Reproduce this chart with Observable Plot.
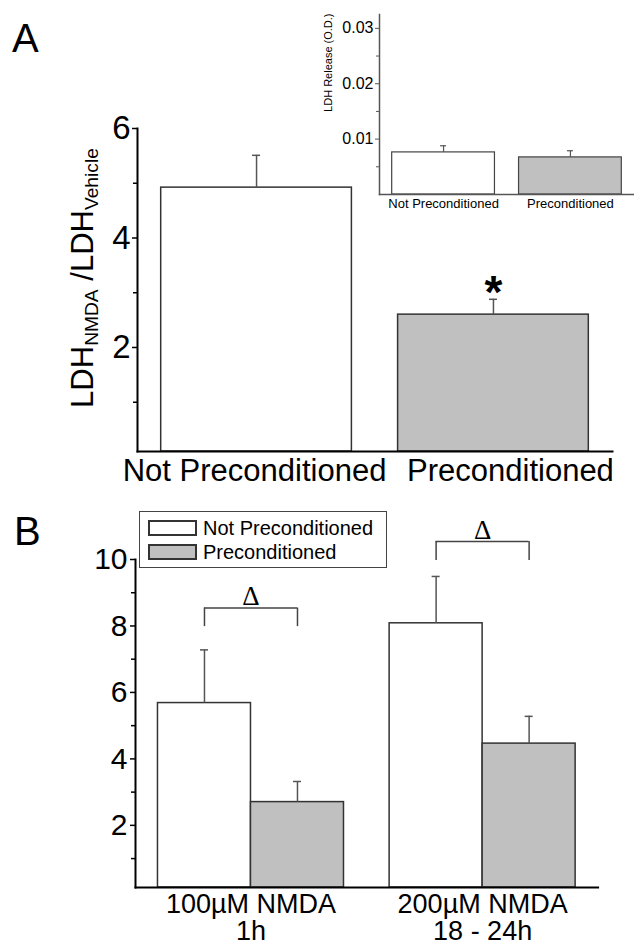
<!DOCTYPE html>
<html><head><meta charset="utf-8">
<script src="https://cdn.jsdelivr.net/npm/d3@7"></script>
<script src="https://cdn.jsdelivr.net/npm/@observablehq/plot@0.6"></script>
<style>
body{margin:0;background:#fff;}
#root{position:relative;width:634px;height:948px;overflow:hidden;font-family:"Liberation Sans",Arial,sans-serif;color:#000;}
#root svg{position:absolute;left:0;overflow:visible;background:transparent;}
.panel{position:absolute;font-size:40px;line-height:1;}
.ylab{position:absolute;white-space:nowrap;font-size:31px;line-height:1;transform:translate(-50%,-50%) rotate(-90deg);}
.ylab sub{font-size:0.62em;vertical-align:-0.25em;}
.legend{position:absolute;border:1.5px solid #444;box-sizing:border-box;background:#fff;}
.legend .row{position:absolute;left:8px;display:flex;align-items:center;font-size:20px;line-height:1;}
.legend .sw{width:49px;height:16px;border:2px solid #333;box-sizing:border-box;margin-right:6px;}
</style></head><body><div id="root"></div>
<script>
// ---------- data ----------
const groupsA = ["Not Preconditioned", "Preconditioned"];
const meanA = [4.92, 2.60];
const errA = [0.59, 0.28];
const ticksA = [2, 4, 6];
const minorTicksA = [1, 3, 5];

const insetMean = [0.0076, 0.0067];
const insetErr = [0.0012, 0.0012];
const ticksInset = [0.01, 0.02, 0.03];
const minorTicksInset = [0.005, 0.015, 0.025];

const groupsB = ["100\u00B5M NMDA\n1h", "200\u00B5M NMDA\n18 - 24h"];
const seriesB = ["Not Preconditioned", "Preconditioned"];
const meanNotPre = [5.68, 8.08];
const errNotPre = [1.60, 1.41];
const meanPre = [2.70, 4.46];
const errPre = [0.62, 0.82];
const bracketTop = [8.54, 10.54];
const bracketEnd = [7.98, 9.97];
const ticksB = [2, 4, 6, 8, 10];
const minorTicksB = [1, 3, 5, 7, 9];

// ---------- layout / style ----------
const W = 634;
const GRAY = "#c0c0c0", EDGE = "#333", ERR = "#555";
const fills = {domain: seriesB, range: ["#ffffff", GRAY]};
const root = document.getElementById("root");
const bandW = (dom, r0, r1, pi, po) => d3.scaleBand(dom, [r0, r1]).paddingInner(pi).paddingOuter(po).bandwidth();
const cap = 8;
const intFmt = d3.format("d");

// ---------- Panel A ----------
const LA = {h: 495, ml: 137, mr: 22, mt: 128, mb: 44, yMin: 0.1, yMax: 6, pi: 0.195, po: 0.1};
const bwA = bandW(groupsA, LA.ml, W - LA.mr, LA.pi, LA.po);
const rowsA = groupsA.map((g, i) => ({g, m: meanA[i], e: errA[i]}));
const plotA = Plot.plot({
  width: W, height: LA.h,
  marginLeft: LA.ml, marginRight: LA.mr, marginTop: LA.mt, marginBottom: LA.mb,
  style: {fontFamily: "Liberation Sans", background: "transparent", overflow: "visible"},
  x: {type: "band", domain: groupsA, paddingInner: LA.pi, paddingOuter: LA.po, round: false, label: null},
  y: {domain: [LA.yMin, LA.yMax], label: null},
  color: fills,
  marks: [
    Plot.barY(rowsA, {x: "g", y1: LA.yMin, y2: "m", fill: "g", stroke: EDGE, strokeWidth: 1.5}),
    Plot.ruleX(rowsA, {x: "g", y1: "m", y2: d => d.m + d.e, stroke: ERR, strokeWidth: 1.5}),
    Plot.tickY(rowsA, {x: "g", y: d => d.m + d.e, insetLeft: (bwA - cap) / 2, insetRight: (bwA - cap) / 2, stroke: ERR, strokeWidth: 1.5}),
    Plot.text([rowsA[1]], {x: "g", y: d => d.m + d.e, text: () => "*", fontSize: 46, fontWeight: "bold", lineAnchor: "middle", dy: -6}),
    Plot.frame({anchor: "left", stroke: "#000", strokeWidth: 2}),
    Plot.frame({anchor: "bottom", stroke: "#000", strokeWidth: 2}),
    Plot.axisY({ticks: ticksA, tickSize: 5, tickPadding: 2, fontSize: 33, tickFormat: intFmt, label: null, strokeWidth: 1.5}),
    Plot.axisY({ticks: minorTicksA, tickSize: 4, tickFormat: () => "", label: null, strokeWidth: 1.5}),
    Plot.axisX({ticks: [groupsA[0]], tickSize: 0, tickPadding: 7, fontSize: 31, label: null, dx: -2}),
    Plot.axisX({ticks: [groupsA[1]], tickSize: 0, tickPadding: 7, fontSize: 31, label: null, dx: 17})
  ]
});
plotA.style.top = "0px";
root.appendChild(plotA);

// ---------- Inset ----------
const LI = {h: 230, ml: 379, mr: 0, mt: 14, mb: 36, yMax: 0.0325, pi: 0.19, po: 0.1};
const bwI = bandW(groupsA, LI.ml, W - LI.mr, LI.pi, LI.po);
const rowsI = groupsA.map((g, i) => ({g, m: insetMean[i], e: insetErr[i]}));
const capI = 6;
const plotI = Plot.plot({
  width: W, height: LI.h,
  marginLeft: LI.ml, marginRight: LI.mr, marginTop: LI.mt, marginBottom: LI.mb,
  style: {fontFamily: "Liberation Sans", background: "transparent", overflow: "visible"},
  x: {type: "band", domain: groupsA, paddingInner: LI.pi, paddingOuter: LI.po, round: false, label: null},
  y: {domain: [0, LI.yMax], label: null},
  color: fills,
  marks: [
    Plot.barY(rowsI, {x: "g", y: "m", fill: "g", stroke: "#444", strokeWidth: 1.2}),
    Plot.ruleX(rowsI, {x: "g", y1: "m", y2: d => d.m + d.e, stroke: ERR, strokeWidth: 1.2}),
    Plot.tickY(rowsI, {x: "g", y: d => d.m + d.e, insetLeft: (bwI - capI) / 2, insetRight: (bwI - capI) / 2, stroke: ERR, strokeWidth: 1.2}),
    Plot.frame({anchor: "left", stroke: "#555", strokeWidth: 1.5}),
    Plot.frame({anchor: "bottom", stroke: "#555", strokeWidth: 1.5}),
    Plot.axisY({ticks: ticksInset, tickSize: 4, tickPadding: 2, fontSize: 16, tickFormat: d3.format(".2f"), label: null, stroke: "#555"}),
    Plot.axisY({ticks: minorTicksInset, tickSize: 3, tickFormat: () => "", label: null, stroke: "#555"}),
    Plot.axisX({tickSize: 0, tickPadding: 4, fontSize: 13, label: null}),
    Plot.text(["LDH Release (O.D.)"], {frameAnchor: "top-left", text: d => d, rotate: -90, textAnchor: "end", lineAnchor: "middle", fontSize: 11, dx: -51, dy: -1})
  ]
});
plotI.style.top = "0px";
root.appendChild(plotI);

// ---------- Panel B ----------
const LB = {top: 495, h: 453, ml: 135, mr: 36.4, mt: 64, mb: 61, yMin: 0.13, yMax: 10, pi: 0.197, po: 0.097};
const bwB = bandW(groupsB, LB.ml, W - LB.mr, LB.pi, LB.po);
const rowsNP = groupsB.map((g, i) => ({g, s: seriesB[0], m: meanNotPre[i], e: errNotPre[i]}));
const rowsP = groupsB.map((g, i) => ({g, s: seriesB[1], m: meanPre[i], e: errPre[i]}));
const rowsBr = groupsB.map((g, i) => ({g, top: bracketTop[i], end: bracketEnd[i]}));
const q = bwB / 4;
const plotB = Plot.plot({
  width: W, height: LB.h,
  marginLeft: LB.ml, marginRight: LB.mr, marginTop: LB.mt, marginBottom: LB.mb,
  style: {fontFamily: "Liberation Sans", background: "transparent", overflow: "visible"},
  x: {type: "band", domain: groupsB, paddingInner: LB.pi, paddingOuter: LB.po, round: false, label: null},
  y: {domain: [LB.yMin, LB.yMax], label: null},
  color: fills,
  marks: [
    Plot.barY(rowsNP, {x: "g", y1: LB.yMin, y2: "m", fill: "s", stroke: EDGE, strokeWidth: 1.5, insetRight: bwB / 2}),
    Plot.barY(rowsP, {x: "g", y1: LB.yMin, y2: "m", fill: "s", stroke: EDGE, strokeWidth: 1.5, insetLeft: bwB / 2}),
    Plot.ruleX(rowsNP, {x: "g", y1: "m", y2: d => d.m + d.e, dx: -q, stroke: ERR, strokeWidth: 1.5}),
    Plot.ruleX(rowsP, {x: "g", y1: "m", y2: d => d.m + d.e, dx: q, stroke: ERR, strokeWidth: 1.5}),
    Plot.tickY(rowsNP, {x: "g", y: d => d.m + d.e, insetLeft: q - cap / 2, insetRight: 3 * q - cap / 2, stroke: ERR, strokeWidth: 1.5}),
    Plot.tickY(rowsP, {x: "g", y: d => d.m + d.e, insetLeft: 3 * q - cap / 2, insetRight: q - cap / 2, stroke: ERR, strokeWidth: 1.5}),
    Plot.tickY(rowsBr, {x: "g", y: "top", insetLeft: q, insetRight: q, stroke: "#444", strokeWidth: 1.5}),
    Plot.ruleX(rowsBr, {x: "g", y1: "end", y2: "top", dx: -q, stroke: "#444", strokeWidth: 1.5}),
    Plot.ruleX(rowsBr, {x: "g", y1: "end", y2: "top", dx: q, stroke: "#444", strokeWidth: 1.5}),
    Plot.text(rowsBr, {x: "g", y: "top", text: () => "\u0394", fontSize: 27, fontFamily: "Liberation Serif", lineAnchor: "bottom", dy: -3}),
    Plot.frame({anchor: "left", stroke: "#000", strokeWidth: 2}),
    Plot.frame({anchor: "bottom", stroke: "#000", strokeWidth: 2}),
    Plot.axisY({ticks: ticksB, tickSize: 5, tickPadding: 3, fontSize: 30, tickFormat: intFmt, label: null, strokeWidth: 1.5}),
    Plot.axisY({ticks: minorTicksB, tickSize: 4, tickFormat: () => "", label: null, strokeWidth: 1.5}),
    Plot.axisX({tickSize: 0, tickPadding: 6, fontSize: 27, lineHeight: 1.0, label: null})
  ]
});
plotB.style.top = LB.top + "px";
root.appendChild(plotB);

// ---------- HTML text: panel letters, y label, legend ----------
function add(html, cls, css) {
  const d = document.createElement("div");
  d.className = cls; d.innerHTML = html; Object.assign(d.style, css);
  root.appendChild(d); return d;
}
add("A", "panel", {left: "12px", top: "18px"});
add("B", "panel", {left: "14px", top: "511px"});
add("LDH<sub>NMDA</sub> /LDH<sub>Vehicle</sub>", "ylab", {left: "84px", top: "278px"});
const lg = add("", "legend", {left: "139px", top: "511px", width: "248px", height: "57px"});
seriesB.forEach((s, i) => {
  const r = document.createElement("div");
  r.className = "row";
  r.style.top = (6 + i * 23.5) + "px";
  r.innerHTML = `<div class="sw" style="background:${fills.range[i]}"></div><span>${s}</span>`;
  lg.appendChild(r);
});
</script></body></html>
